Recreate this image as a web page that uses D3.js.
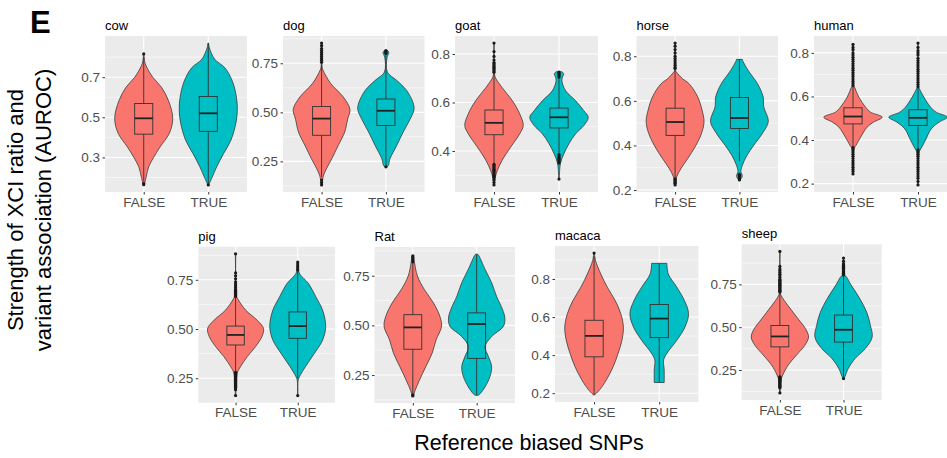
<!DOCTYPE html>
<html>
<head>
<meta charset="utf-8">
<script src="https://cdn.jsdelivr.net/npm/d3@7"></script>
<style>
  body { margin: 0; background: #fff; }
  svg { display: block; }
  text { font-family: "Liberation Sans", Arial, Helvetica, sans-serif; }
</style>
</head>
<body>
<svg id="chart" width="947" height="458"></svg>
<script>
// ---- data ---------------------------------------------------------------
const species = ["cow", "dog", "goat", "horse", "human", "pig", "Rat", "macaca", "sheep"];
const groups = ["FALSE", "TRUE"];

const yTickLabels = [
  ["0.3", "0.5", "0.7"],
  ["0.25", "0.50", "0.75"],
  ["0.4", "0.6", "0.8"],
  ["0.2", "0.4", "0.6", "0.8"],
  ["0.2", "0.4", "0.6", "0.8"],
  ["0.25", "0.50", "0.75"],
  ["0.25", "0.50", "0.75"],
  ["0.2", "0.4", "0.6", "0.8"],
  ["0.25", "0.50", "0.75"]
];

// violin outlines: [AUROC, relative density width], top to bottom
const violinFalse = [
  [[0.816,0.01],[0.78,0.03],[0.757,0.08],[0.70,0.31],[0.65,0.61],[0.584,0.85],[0.495,1.0],[0.42,0.88],[0.352,0.56],[0.30,0.34],[0.253,0.17],[0.20,0.08],[0.164,0.02]],
  [[0.853,0.01],[0.73,0.02],[0.715,0.05],[0.648,0.31],[0.578,0.75],[0.515,0.98],[0.465,0.9],[0.40,0.8],[0.33,0.57],[0.263,0.35],[0.213,0.17],[0.18,0.07],[0.13,0.01]],
  [[0.845,0.01],[0.717,0.02],[0.702,0.05],[0.661,0.28],[0.607,0.63],[0.553,0.88],[0.505,1.0],[0.471,0.88],[0.416,0.57],[0.362,0.28],[0.321,0.12],[0.294,0.05],[0.26,0.01]],
  [[0.859,0.01],[0.735,0.02],[0.727,0.06],[0.70,0.25],[0.676,0.49],[0.618,0.78],[0.559,0.93],[0.508,1.0],[0.457,0.92],[0.398,0.71],[0.34,0.43],[0.296,0.2],[0.26,0.06],[0.223,0.01]],
  [[0.839,0.01],[0.65,0.02],[0.643,0.05],[0.597,0.2],[0.551,0.43],[0.528,0.6],[0.505,1.0],[0.482,0.7],[0.459,0.48],[0.413,0.26],[0.375,0.1],[0.36,0.04],[0.244,0.01]],
  [[0.882,0.01],[0.672,0.02],[0.655,0.07],[0.596,0.36],[0.545,0.77],[0.503,1.0],[0.461,0.94],[0.41,0.71],[0.36,0.42],[0.31,0.18],[0.276,0.06],[0.162,0.01]],
  [[0.85,0.03],[0.816,0.06],[0.749,0.16],[0.681,0.4],[0.613,0.72],[0.546,0.94],[0.495,1.0],[0.427,0.81],[0.359,0.67],[0.292,0.45],[0.224,0.23],[0.173,0.08],[0.145,0.02]],
  [[0.936,0.01],[0.922,0.02],[0.896,0.05],[0.826,0.23],[0.757,0.45],[0.687,0.72],[0.618,0.91],[0.548,1.0],[0.478,0.95],[0.409,0.82],[0.339,0.65],[0.27,0.42],[0.218,0.19],[0.191,0.02]],
  [[0.943,0.01],[0.702,0.02],[0.683,0.05],[0.625,0.29],[0.548,0.64],[0.49,0.9],[0.442,1.0],[0.394,0.87],[0.337,0.58],[0.279,0.29],[0.221,0.1],[0.192,0.04],[0.116,0.01]]
];
const violinTrue = [
  [[0.87,0.01],[0.846,0.04],[0.79,0.22],[0.747,0.57],[0.68,0.83],[0.6,0.97],[0.535,1.0],[0.47,0.95],[0.386,0.78],[0.32,0.53],[0.253,0.29],[0.2,0.13],[0.165,0.02]],
  [[0.815,0.06],[0.805,0.1],[0.78,0.04],[0.705,0.05],[0.663,0.37],[0.613,0.71],[0.548,0.94],[0.513,0.97],[0.463,0.83],[0.40,0.6],[0.33,0.37],[0.263,0.14],[0.228,0.08],[0.222,0.03]],
  [[0.727,0.1],[0.718,0.16],[0.705,0.12],[0.689,0.1],[0.648,0.23],[0.607,0.57],[0.566,0.85],[0.539,1.0],[0.505,0.85],[0.471,0.57],[0.43,0.34],[0.389,0.17],[0.349,0.05],[0.284,0.01]],
  [[0.786,0.1],[0.778,0.12],[0.735,0.31],[0.676,0.63],[0.618,0.82],[0.574,0.84],[0.508,1.0],[0.457,0.81],[0.398,0.48],[0.355,0.26],[0.31,0.1],[0.282,0.05],[0.265,0.1],[0.255,0.08],[0.245,0.02]],
  [[0.845,0.01],[0.643,0.02],[0.635,0.05],[0.597,0.2],[0.551,0.43],[0.528,0.62],[0.505,1.0],[0.482,0.72],[0.451,0.45],[0.398,0.25],[0.36,0.1],[0.344,0.04],[0.194,0.01]],
  [[0.84,0.01],[0.80,0.03],[0.78,0.07],[0.73,0.39],[0.663,0.65],[0.596,0.89],[0.512,1.0],[0.444,0.89],[0.377,0.6],[0.31,0.28],[0.26,0.07],[0.242,0.02],[0.162,0.01]],
  [[0.859,0.03],[0.85,0.08],[0.783,0.29],[0.715,0.52],[0.647,0.69],[0.58,0.9],[0.537,0.98],[0.495,0.93],[0.444,0.52],[0.393,0.29],[0.343,0.41],[0.292,0.52],[0.241,0.46],[0.19,0.29],[0.156,0.12],[0.148,0.05]],
  [[0.882,0.26],[0.826,0.31],[0.757,0.6],[0.687,0.86],[0.618,1.0],[0.548,0.88],[0.478,0.6],[0.409,0.26],[0.374,0.15],[0.322,0.17],[0.256,0.17]],
  [[0.904,0.01],[0.80,0.05],[0.798,0.08],[0.74,0.29],[0.664,0.58],[0.587,0.81],[0.51,0.94],[0.442,1.0],[0.375,0.76],[0.318,0.41],[0.26,0.17],[0.211,0.05],[0.20,0.02]]
];

// box statistics: [lower whisker, Q1, median, Q3, upper whisker]
const boxFalse = [
  [0.18, 0.416, 0.495, 0.569, 0.80],
  [0.17, 0.383, 0.468, 0.53, 0.745],
  [0.35, 0.467, 0.516, 0.569, 0.72],
  [0.255, 0.445, 0.505, 0.567, 0.74],
  [0.37, 0.474, 0.508, 0.548, 0.648],
  [0.285, 0.419, 0.47, 0.515, 0.66],
  [0.155, 0.38, 0.49, 0.554, 0.815],
  [0.191, 0.391, 0.501, 0.583, 0.92],
  [0.212, 0.385, 0.446, 0.51, 0.70]
];
const boxTrue = [
  [0.168, 0.43, 0.52, 0.604, 0.87],
  [0.23, 0.433, 0.508, 0.568, 0.795],
  [0.39, 0.495, 0.539, 0.577, 0.70],
  [0.33, 0.476, 0.523, 0.615, 0.786],
  [0.36, 0.467, 0.502, 0.539, 0.64],
  [0.25, 0.453, 0.515, 0.587, 0.795],
  [0.148, 0.334, 0.507, 0.563, 0.859],
  [0.256, 0.492, 0.592, 0.666, 0.882],
  [0.205, 0.413, 0.485, 0.571, 0.80]
];

// points beyond the whiskers
const outliersFalse = [
  [0.816, 0.17, 0.164],
  [0.755, 0.765, 0.775, 0.785, 0.795, 0.805, 0.815, 0.825, 0.84, 0.853, 0.155, 0.142, 0.13],
  [0.725, 0.73, 0.735, 0.74, 0.745, 0.75, 0.755, 0.76, 0.765, 0.775, 0.79, 0.81, 0.845,
   0.345, 0.34, 0.335, 0.33, 0.325, 0.32, 0.315, 0.31, 0.305, 0.30, 0.295, 0.29, 0.28, 0.27, 0.26],
  [0.745, 0.75, 0.76, 0.77, 0.78, 0.79, 0.80, 0.815, 0.83, 0.845, 0.859, 0.25, 0.245, 0.24, 0.235, 0.23, 0.223],
  [0.65, 0.66, 0.67, 0.68, 0.69, 0.70, 0.71, 0.72, 0.73, 0.74, 0.75, 0.76, 0.77, 0.78, 0.79, 0.80, 0.815, 0.825, 0.839,
   0.365, 0.355, 0.345, 0.335, 0.325, 0.315, 0.305, 0.295, 0.285, 0.275, 0.265, 0.255, 0.244],
  [0.665, 0.67, 0.675, 0.68, 0.685, 0.69, 0.695, 0.70, 0.71, 0.72, 0.73, 0.74, 0.755, 0.77, 0.785, 0.882,
   0.28, 0.275, 0.27, 0.265, 0.26, 0.255, 0.25, 0.245, 0.24, 0.235, 0.23, 0.225, 0.22, 0.215, 0.21, 0.205, 0.20, 0.192, 0.162],
  [0.82, 0.83, 0.84, 0.85, 0.15, 0.145],
  [0.936],
  [0.705, 0.71, 0.715, 0.72, 0.725, 0.73, 0.735, 0.74, 0.745, 0.75, 0.755, 0.76, 0.765, 0.77, 0.775, 0.78, 0.79, 0.80,
   0.81, 0.82, 0.83, 0.84, 0.855, 0.943,
   0.21, 0.205, 0.20, 0.195, 0.19, 0.185, 0.18, 0.175, 0.17, 0.165, 0.16, 0.155, 0.15, 0.145, 0.116]
];
const outliersTrue = [
  [0.163],
  [0.80, 0.805, 0.81, 0.815, 0.222],
  [0.705, 0.71, 0.715, 0.72, 0.725, 0.385, 0.38, 0.375, 0.37, 0.365, 0.36, 0.355, 0.35, 0.284],
  [0.27, 0.265, 0.26, 0.255, 0.25, 0.245],
  [0.645, 0.655, 0.665, 0.675, 0.685, 0.695, 0.705, 0.715, 0.725, 0.735, 0.745, 0.755, 0.765, 0.775, 0.79, 0.80, 0.81, 0.825, 0.845,
   0.355, 0.345, 0.335, 0.325, 0.315, 0.305, 0.295, 0.285, 0.275, 0.265, 0.255, 0.245, 0.235, 0.225, 0.21, 0.194],
  [0.80, 0.81, 0.82, 0.83, 0.84, 0.162],
  [],
  [],
  [0.805, 0.81, 0.815, 0.82, 0.825, 0.83, 0.835, 0.84, 0.845, 0.85, 0.855, 0.86, 0.865, 0.87, 0.885, 0.904, 0.2]
];

// ---- layout -------------------------------------------------------------
// plotting area of each facet: [left, top, right, bottom]
const panelFrames = [
  [105, 36, 247, 192],
  [283, 36, 424.5, 192],
  [455, 36, 598, 192],
  [636.5, 36, 778, 192],
  [814, 36, 957, 192],
  [198.3, 246.7, 335, 402.7],
  [374.5, 247, 515, 403],
  [555, 246, 698.3, 402],
  [741.7, 244.3, 881.7, 400]
];

const fills = ["#F8766D", "#00BFC4"];
const ink = "#333333";
const panelBg = "#EBEBEB";
const tickText = "#4D4D4D";

const svg = d3.select("#chart");

species.forEach((name, i) => {
  const [l, t, r, b] = panelFrames[i];
  const profiles = [violinFalse[i], violinTrue[i]];
  const boxes = [boxFalse[i], boxTrue[i]];
  const outs = [outliersFalse[i], outliersTrue[i]];

  // y range = data extent with 5% expansion on each side
  const values = profiles.flat().map(d => d[0]).concat(outs.flat());
  const [mn, mx] = d3.extent(values);
  const pad = (mx - mn) * 0.05;
  const y = d3.scaleLinear().domain([mn - pad, mx + pad]).range([b, t]);
  const x = d3.scalePoint().domain(groups).range([l, r]).padding(0.6);
  const unit = x.step();

  const g = svg.append("g").attr("class", "facet");

  g.append("rect")
    .attr("x", l).attr("y", t)
    .attr("width", r - l).attr("height", b - t)
    .attr("fill", panelBg);

  const ticks = yTickLabels[i].map(Number);
  const step = ticks[1] - ticks[0];
  const [d0, d1] = y.domain();
  const minors = d3.range(-1, ticks.length)
    .map(k => ticks[0] + (k + 0.5) * step)
    .filter(v => v > d0 && v < d1);

  g.selectAll("line.minor").data(minors).join("line")
    .attr("x1", l).attr("x2", r)
    .attr("y1", d => y(d)).attr("y2", d => y(d))
    .attr("stroke", "#fff").attr("stroke-width", 0.55);

  g.selectAll("line.major").data(ticks).join("line")
    .attr("x1", l).attr("x2", r)
    .attr("y1", d => y(d)).attr("y2", d => y(d))
    .attr("stroke", "#fff").attr("stroke-width", 1.1);

  g.selectAll("line.vmajor").data(groups).join("line")
    .attr("x1", d => x(d)).attr("x2", d => x(d))
    .attr("y1", t).attr("y2", b)
    .attr("stroke", "#fff").attr("stroke-width", 1.1);

  groups.forEach((grp, k) => {
    const cx = x(grp);
    const half = 0.45 * unit;
    const area = d3.area()
      .curve(d3.curveCatmullRom.alpha(0.5))
      .y(d => y(d[0]))
      .x0(d => cx - d[1] * half)
      .x1(d => cx + d[1] * half);

    g.append("path")
      .datum(profiles[k])
      .attr("d", area)
      .attr("fill", fills[k])
      .attr("stroke", ink)
      .attr("stroke-width", 0.75)
      .attr("stroke-linejoin", "round");

    const [lo, q1, med, q3, hi] = boxes[k];
    const bw = 0.28 * unit;

    g.append("line")
      .attr("x1", cx).attr("x2", cx)
      .attr("y1", y(hi)).attr("y2", y(q3))
      .attr("stroke", ink).attr("stroke-width", 0.9);
    g.append("line")
      .attr("x1", cx).attr("x2", cx)
      .attr("y1", y(q1)).attr("y2", y(lo))
      .attr("stroke", ink).attr("stroke-width", 0.9);

    g.append("rect")
      .attr("x", cx - bw / 2).attr("width", bw)
      .attr("y", y(q3)).attr("height", y(q1) - y(q3))
      .attr("fill", "none")
      .attr("stroke", ink).attr("stroke-width", 0.9);

    g.append("line")
      .attr("x1", cx - bw / 2).attr("x2", cx + bw / 2)
      .attr("y1", y(med)).attr("y2", y(med))
      .attr("stroke", "#222").attr("stroke-width", 1.8);

    g.selectAll(null).data(outs[k]).join("circle")
      .attr("cx", cx).attr("cy", d => y(d))
      .attr("r", 1.6)
      .attr("fill", "#1a1a1a");
  });

  // axes
  const yAxis = d3.axisLeft(y)
    .tickValues(ticks)
    .tickFormat((d, k) => yTickLabels[i][k])
    .tickSize(2.5).tickPadding(2.5);
  const ya = g.append("g").attr("transform", `translate(${l},0)`).call(yAxis);
  ya.select(".domain").remove();
  ya.selectAll(".tick line").attr("stroke", ink);
  ya.selectAll(".tick text")
    .attr("fill", tickText).attr("font-size", 13.5)
    .attr("font-family", "Liberation Sans, Arial, sans-serif");

  const xAxis = d3.axisBottom(x).tickSize(2.5).tickPadding(2.6);
  const xa = g.append("g").attr("transform", `translate(0,${b})`).call(xAxis);
  xa.select(".domain").remove();
  xa.selectAll(".tick line").attr("stroke", ink);
  xa.selectAll(".tick text")
    .attr("fill", tickText).attr("font-size", 13.5)
    .attr("font-family", "Liberation Sans, Arial, sans-serif");

  // facet title
  g.append("text")
    .attr("x", l).attr("y", t - 6)
    .attr("font-size", 13)
    .attr("fill", "#000")
    .text(name);
});

// figure panel letter
svg.append("text")
  .attr("x", 30).attr("y", 33)
  .attr("font-size", 31).attr("font-weight", "bold")
  .attr("fill", "#000")
  .text("E");

// shared y title (two lines)
const yTitleLines = ["Strength of XCI ratio and", "variant association (AUROC)"];
const yTitleX = [23, 51];
yTitleLines.forEach((line, k) => {
  svg.append("text")
    .attr("transform", `translate(${yTitleX[k]},210) rotate(-90)`)
    .attr("text-anchor", "middle")
    .attr("font-size", 22)
    .attr("fill", "#000")
    .text(line);
});

// shared x title
svg.append("text")
  .attr("x", 529).attr("y", 450)
  .attr("text-anchor", "middle")
  .attr("font-size", 21.5)
  .attr("fill", "#000")
  .text("Reference biased SNPs");
</script>
</body>
</html>
